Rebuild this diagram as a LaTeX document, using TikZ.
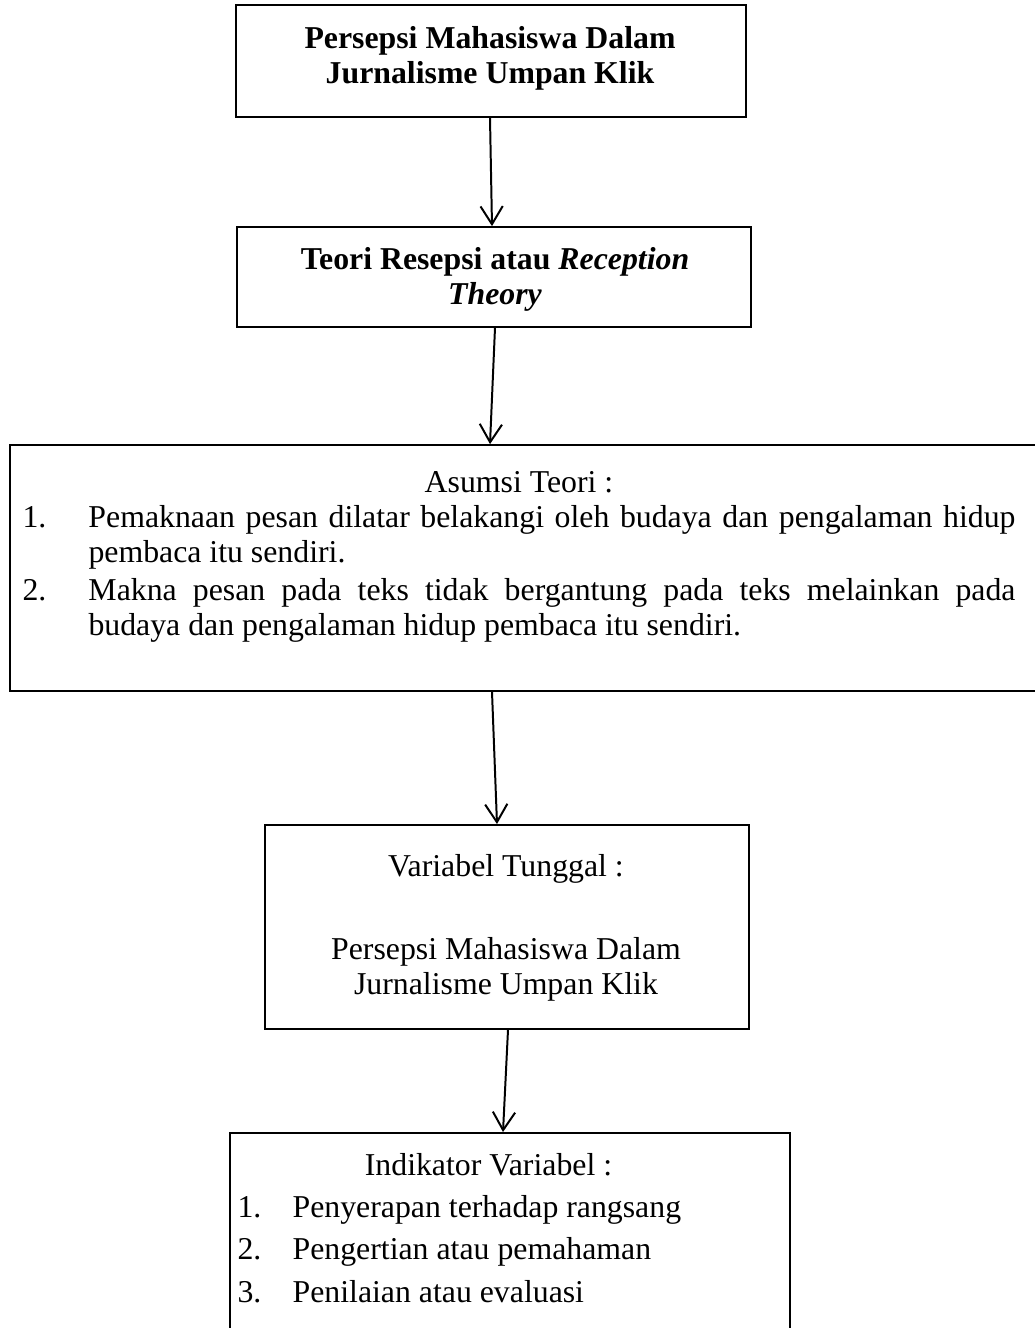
\documentclass[tikz,border=0pt]{standalone}
\usepackage{fontspec}
\setmainfont{Liberation Serif}
\usetikzlibrary{arrows.meta,calc}
\tikzset{
  kotak/.style={rectangle,draw=black,line width=0.7pt,inner sep=0pt},
  teks/.style={inner sep=0pt,font=\fontsize{12}{13.2}\selectfont},
  tebal/.style={teks,font=\fontsize{12}{13.2}\selectfont\bfseries},
  panah/.style={-{Straight Barb[length=6.8pt,width=8.4pt]},line width=0.75pt}
}
\begin{document}
\begin{tikzpicture}[x=0.37736pt,y=-0.37736pt]
  \useasboundingbox (0,0) rectangle (1035,1328);
  % kotak bagan
  \node[kotak,minimum width=192.5pt,minimum height=42.3pt] (judul) at (491,61) {};
  \node[kotak,minimum width=194pt,minimum height=37.7pt] (teori) at (494,277) {};
  \node[kotak,minimum width=388.7pt,minimum height=92.8pt] (asumsi) at (525,568) {};
  \node[kotak,minimum width=182.6pt,minimum height=77pt] (tunggal) at (507,927) {};
  \node[kotak,minimum width=211.3pt,minimum height=85.7pt] (indikator) at (510,1246.5) {};
  % isi kotak
  \node[tebal,anchor=north,align=center] (judulTeks) at (490,26)
    {Persepsi Mahasiswa Dalam\\Jurnalisme Umpan Klik};
  \node[tebal,anchor=north,align=center] (teoriTeks) at (495,247)
    {Teori Resepsi atau \textit{Reception}\\\textit{Theory}};
  \node[teks,anchor=north west,text width=374.7pt,align=justify] (asumsiTeks) at (22,471) {%
    \parindent=0pt
    {\centering Asumsi Teori :\par}
    \hangindent=24.9pt\makebox[24.9pt][l]{1.}Pemaknaan pesan dilatar belakangi oleh budaya dan pengalaman hidup\linebreak pembaca itu sendiri.\par
    \vspace{1pt}
    \hangindent=24.9pt\makebox[24.9pt][l]{2.}Makna pesan pada teks tidak bergantung pada teks melainkan pada\linebreak budaya dan pengalaman hidup pembaca itu sendiri.\par};
  \node[teks,anchor=north,align=center] (tunggalTeks) at (506,854)
    {Variabel Tunggal :\\[18pt]Persepsi Mahasiswa Dalam\\Jurnalisme Umpan Klik};
  \node[teks,anchor=north west,text width=189.4pt,align=flush left] (indikatorTeks) at (237,1153) {%
    \fontsize{12}{15.9}\selectfont\parindent=0pt
    {\centering Indikator Variabel :\par}
    \makebox[20.8pt][l]{1.}Penyerapan terhadap rangsang\par
    \makebox[20.8pt][l]{2.}Pengertian atau pemahaman\par
    \makebox[20.8pt][l]{3.}Penilaian atau evaluasi\par};
  % panah
  \draw[panah] ($(judul.south)+(-1,0)$) -- ($(teori.north)+(-2,0)$);
  \draw[panah] ($(teori.south)+(1,0)$) -- ($(asumsi.north)+(-35,0)$);
  \draw[panah] ($(asumsi.south)+(-33,0)$) -- ($(tunggal.north)+(-10,0)$);
  \draw[panah] ($(tunggal.south)+(1,0)$) -- ($(indikator.north)+(-7,0)$);
\end{tikzpicture}
\end{document}
